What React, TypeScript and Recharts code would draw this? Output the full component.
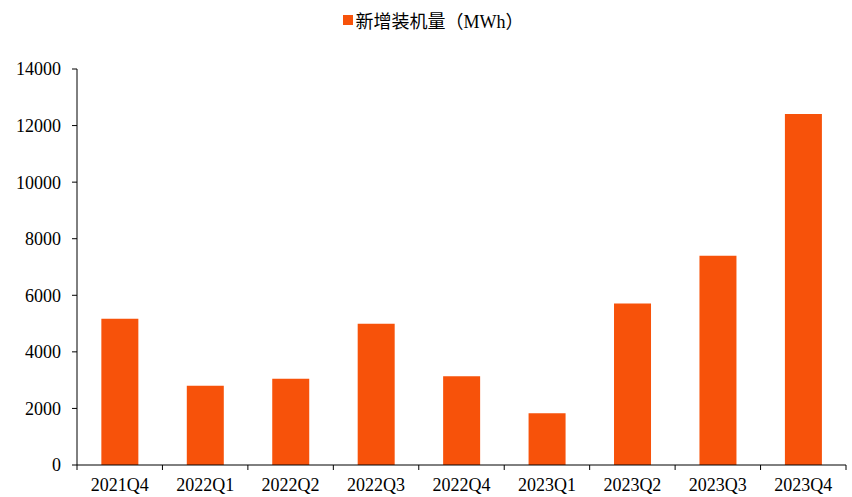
import { Bar, BarChart, Legend, XAxis, YAxis } from 'recharts'

const quarters = ['2021Q4', '2022Q1', '2022Q2', '2022Q3', '2022Q4', '2023Q1', '2023Q2', '2023Q3', '2023Q4']
const installed = [5170, 2800, 3045, 4990, 3140, 1830, 5710, 7400, 12410]
const yTicks = [0, 2000, 4000, 6000, 8000, 10000, 12000, 14000]

const data = quarters.map((q, i) => ({ quarter: q, value: installed[i] }))

const FONT = '"Times New Roman", "Liberation Serif", "Noto Sans CJK SC", serif'
const BAR_COLOR = '#F7520A'

if (typeof document !== 'undefined') document.body.style.margin = '0'

const QuarterTick = (props: any) => {
  const { x, y, payload, index, visibleTicksCount } = props
  const half = payload?.offset || 42.7
  const last = index === (visibleTicksCount ?? quarters.length) - 1
  return (
    <g>
      <line x1={x - half} x2={x - half} y1={y - 8} y2={y - 3} stroke="#000" />
      {last && <line x1={x + half} x2={x + half} y1={y - 8} y2={y - 3} stroke="#000" />}
      <text x={x} y={y + 18} textAnchor="middle" fontSize={18} fontFamily={FONT} fill="#000">
        {payload.value}
      </text>
    </g>
  )
}

const LegendBox = () => (
  <div
    style={{
      display: 'flex',
      justifyContent: 'center',
      alignItems: 'center',
      fontFamily: FONT,
      fontSize: 18,
      height: 24,
      paddingLeft: 14,
    }}
  >
    <span style={{ width: 10, height: 10, background: BAR_COLOR, display: 'inline-block', marginRight: 3 }} />
    <span>新增装机量（MWh）</span>
  </div>
)

export default function App() {
  return (
    <div style={{ width: 852, height: 497, background: '#fff' }}>
      <BarChart
        width={852}
        height={497}
        data={data}
        margin={{ top: 45, right: 6, bottom: 0, left: 0 }}
        barCategoryGap="28.5%"
      >
        <Legend
          verticalAlign="top"
          align="center"
          content={<LegendBox />}
          wrapperStyle={{ top: 8, left: 0, width: 852 }}
        />
        <XAxis
          dataKey="quarter"
          height={32}
          axisLine={{ stroke: '#000' }}
          tickLine={false}
          tick={<QuarterTick />}
          interval={0}
        />
        <YAxis
          width={77}
          domain={[0, 14000]}
          ticks={yTicks}
          axisLine={{ stroke: '#000' }}
          tickLine={{ stroke: '#000' }}
          tickSize={5}
          tickMargin={11}
          tick={{ fontSize: 18, fontFamily: FONT, fill: '#000' }}
        />
        <Bar dataKey="value" name="新增装机量（MWh）" fill={BAR_COLOR} isAnimationActive={false} />
      </BarChart>
    </div>
  )
}
